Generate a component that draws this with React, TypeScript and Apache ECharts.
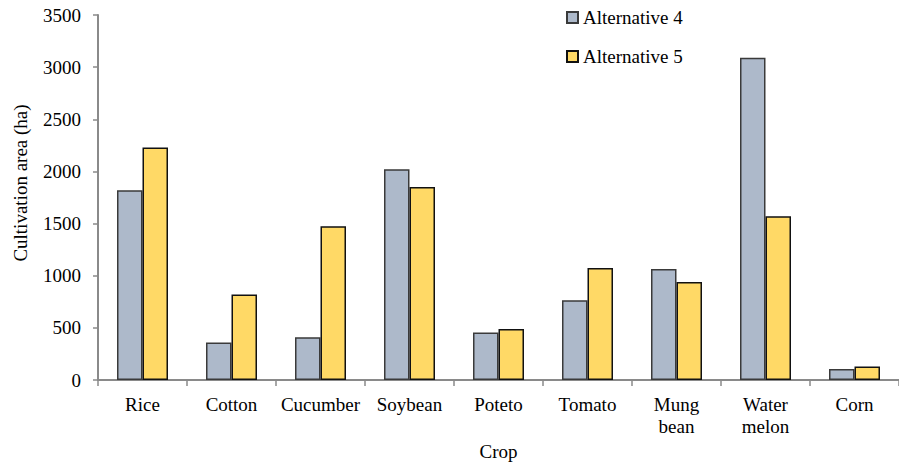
import React, { useEffect, useRef } from "react";
import * as echarts from "echarts";

const crops = ["Rice", "Cotton", "Cucumber", "Soybean", "Poteto", "Tomato", "Mung\nbean", "Water\nmelon", "Corn"];
const alternative4 = [1820, 360, 410, 2020, 455, 765, 1065, 3090, 105];
const alternative5 = [2230, 820, 1475, 1850, 490, 1075, 940, 1570, 130];
const yTicks = { min: 0, max: 3500, interval: 500 };

const FONT = "Times New Roman, Liberation Serif, serif";

export default function App() {
  const ref = useRef<HTMLDivElement>(null);

  useEffect(() => {
    if (!ref.current) return;
    const chart = echarts.init(ref.current, undefined, { renderer: "svg" });
    chart.setOption({
      animation: false,
      backgroundColor: "#ffffff",
      textStyle: { fontFamily: FONT, color: "#000" },
      grid: { left: 98, top: 15, width: 804, height: 365 },
      legend: {
        orient: "vertical",
        left: 561,
        top: 3,
        icon: "rect",
        itemWidth: 11,
        itemHeight: 11,
        itemGap: 20,
        textStyle: { fontFamily: FONT, fontSize: 19, color: "#000" },
        data: ["Alternative 4", "Alternative 5"],
      },
      xAxis: {
        type: "category",
        data: crops,
        name: "Crop",
        nameLocation: "middle",
        nameGap: 61,
        nameTextStyle: { fontFamily: FONT, fontSize: 19, color: "#000" },
        axisLine: { lineStyle: { color: "#8a8a8a", width: 2 } },
        axisTick: { show: true, length: 6, alignWithLabel: false, lineStyle: { color: "#8a8a8a", width: 1.5 } },
        axisLabel: { fontFamily: FONT, fontSize: 19, color: "#000", margin: 13, lineHeight: 22, interval: 0 },
      },
      yAxis: {
        type: "value",
        min: yTicks.min,
        max: yTicks.max,
        interval: yTicks.interval,
        axisLine: { show: true, lineStyle: { color: "#8a8a8a", width: 2 } },
        axisTick: { show: true, length: 5, lineStyle: { color: "#8a8a8a", width: 1.5 } },
        axisLabel: {
          fontFamily: FONT,
          fontSize: 19,
          color: "#000",
          margin: 17,
          formatter: (v: number) => String(v),
        },
        splitLine: { show: false },
      },
      graphic: [
        {
          type: "text",
          x: 20,
          y: 183,
          rotation: Math.PI / 2,
          style: {
            text: "Cultivation area (ha)",
            fontFamily: FONT,
            fontSize: 19,
            fill: "#000",
            align: "center",
            verticalAlign: "middle",
          },
        },
      ],
      series: [
        {
          name: "Alternative 4",
          type: "bar",
          data: alternative4,
          barWidth: 25.5,
          barGap: "0%",
          itemStyle: { color: "#adb9ca", borderColor: "#3a3a3a", borderWidth: 1.5 },
        },
        {
          name: "Alternative 5",
          type: "bar",
          data: alternative5,
          barWidth: 25.5,
          barGap: "0%",
          itemStyle: { color: "#ffd966", borderColor: "#111111", borderWidth: 1.5 },
        },
      ],
    });
    return () => chart.dispose();
  }, []);

  return <div ref={ref} style={{ width: 899, height: 467, position: "absolute", left: 0, top: 0 }} />;
}
